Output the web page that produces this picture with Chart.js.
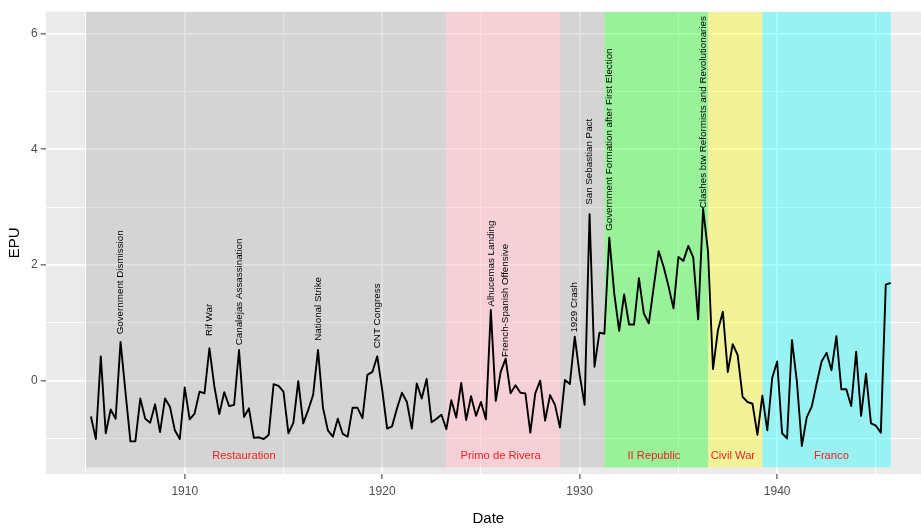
<!DOCTYPE html>
<html><head><meta charset="utf-8">
<script src="https://cdn.jsdelivr.net/npm/chart.js@4/dist/chart.umd.min.js"></script>
<style>
html,body{margin:0;padding:0;background:#fff;overflow:hidden;width:921px;height:528px}
#wrap{position:relative;width:931px;height:528px}
</style>
</head><body><div id="wrap"><canvas id="c" width="931" height="528"></canvas></div>
<script>
// Quarterly EPU index, first observation 1905 Q2
const firstQuarter = 1905.25;
const quarterStep = 0.25;
const epu = [
 -0.62,-1.01, 0.42,-0.91,-0.50,-0.66, 0.67,-0.20,-1.05,-1.05,
 -0.31,-0.66,-0.73,-0.41,-0.89,-0.31,-0.45,-0.86,-1.01,-0.12,
 -0.67,-0.57,-0.19,-0.22, 0.56,-0.10,-0.58,-0.20,-0.44,-0.42,
  0.53,-0.63,-0.48,-0.99,-0.98,-1.01,-0.94,-0.06,-0.09,-0.19,
 -0.91,-0.73,-0.01,-0.74,-0.51,-0.25, 0.53,-0.47,-0.86,-0.97,
 -0.66,-0.92,-0.97,-0.47,-0.47,-0.65, 0.10, 0.15, 0.42,-0.16,
 -0.83,-0.79,-0.48,-0.21,-0.37,-0.83,-0.05,-0.31, 0.03,-0.72,
 -0.66,-0.59,-0.84,-0.34,-0.64,-0.04,-0.68,-0.27,-0.61,-0.37,
 -0.67, 1.22,-0.35, 0.15, 0.38,-0.22,-0.08,-0.21,-0.22,-0.90,
 -0.22, 0.00,-0.69,-0.25,-0.42,-0.81, 0.01,-0.06, 0.76, 0.10,
 -0.42, 2.88, 0.24, 0.83, 0.81, 2.47, 1.51, 0.86, 1.49, 0.97,
  0.97, 1.77, 1.16, 0.99, 1.62, 2.24, 1.97, 1.63, 1.25, 2.14,
  2.07, 2.33, 2.13, 1.06, 2.97, 2.23, 0.20, 0.87, 1.19, 0.15,
  0.63, 0.44,-0.28,-0.37,-0.40,-0.94,-0.26,-0.86, 0.05, 0.33,
 -0.91,-1.00, 0.70,-0.02,-1.13,-0.63,-0.45,-0.05, 0.33, 0.48,
  0.18, 0.77,-0.15,-0.15,-0.44, 0.50,-0.61, 0.12,-0.74,-0.78,
 -0.90, 1.66, 1.69
];
const dates = epu.map((_, i) => firstQuarter + i * quarterStep);

// Political periods
const periodNames  = ["Restauration", "Primo de Rivera", "", "II Republic", "Civil War", "Franco"];
const periodStarts = [1905, 1923.25, 1929, 1931.25, 1936.5, 1939.25];
const periodEnds   = [1923.25, 1929, 1931.25, 1936.5, 1939.25, 1945.75];
const periodLabelAt = [1913.0, 1926.0, null, 1933.76, 1937.76, 1942.75];
const periodFloor = -1.5;
const periodLabelY = -1.3;

// Events
const eventNames = ["Government Dismission", "Rif War", "Canalejas Assassination", "National Strike",
  "CNT Congress", "Alhucemas Landing", "French-Spanish Offensive", "1929 Crash", "San Sebastian Pact",
  "Government Formation after First Election", "Clashes btw Reformists and Revolutionaries"];
const eventDates  = [1906.75, 1911.25, 1912.75, 1916.75, 1919.75, 1925.5, 1926.25, 1929.75, 1930.5, 1931.5, 1936.25];
const eventLabelY = [0.80, 0.77, 0.61, 0.69, 0.56, 1.28, 0.41, 0.83, 3.04, 2.59, 2.98];

// Axis ticks
const xTicks = [1905, 1910, 1915, 1920, 1925, 1930, 1935, 1940, 1945];
const xLabelled = [1910, 1920, 1930, 1940];
const yTicks = [-1, 0, 1, 2, 3, 4, 5, 6];
const yLabelled = [0, 2, 4, 6];

// Styles
const periodFills = ["rgba(169,169,169,0.35)", "rgba(255,182,193,0.5)", "rgba(169,169,169,0.35)",
  "rgba(0,255,0,0.35)", "rgba(255,255,0,0.35)", "rgba(0,255,255,0.35)"];
const FONT = "'Liberation Sans', Arial, Helvetica, sans-serif";

const panelPlugin = {
  id: 'panel',
  beforeDraw(chart) {
    const {ctx, chartArea: a} = chart;
    ctx.save();
    ctx.fillStyle = '#EBEBEB';
    ctx.fillRect(a.left, a.top, a.right - a.left, a.bottom - a.top);
    ctx.restore();
  },
  beforeDatasetsDraw(chart) {
    const {ctx, chartArea: a, scales: {x, y}} = chart;
    ctx.save();
    ctx.beginPath(); ctx.rect(a.left, a.top, a.right - a.left, a.bottom - a.top); ctx.clip();
    const yb = y.getPixelForValue(periodFloor);
    periodStarts.forEach((s, i) => {
      const x1 = x.getPixelForValue(s), x2 = x.getPixelForValue(periodEnds[i]);
      ctx.fillStyle = periodFills[i];
      ctx.fillRect(x1, a.top, x2 - x1, yb - a.top);
    });
    ctx.restore();
  },
  afterDatasetsDraw(chart) {
    const {ctx, scales: {x, y}} = chart;
    ctx.save();
    ctx.fillStyle = '#EE2222';
    ctx.font = '11.2px ' + FONT;
    ctx.textAlign = 'center'; ctx.textBaseline = 'middle';
    periodNames.forEach((n, i) => {
      if (!n) return;
      ctx.fillText(n, x.getPixelForValue(periodLabelAt[i]), y.getPixelForValue(periodLabelY));
    });
    ctx.fillStyle = '#000';
    ctx.font = '9.8px ' + FONT;
    ctx.textAlign = 'left'; ctx.textBaseline = 'middle';
    eventNames.forEach((n, i) => {
      ctx.save();
      ctx.translate(x.getPixelForValue(eventDates[i]), y.getPixelForValue(eventLabelY[i]));
      ctx.rotate(-Math.PI / 2);
      ctx.fillText(n, 0, 0);
      ctx.restore();
    });
    ctx.restore();
  }
};

new Chart(document.getElementById('c'), {
  type: 'line',
  data: {
    datasets: [{
      data: dates.map((d, i) => ({x: d, y: epu[i]})),
      borderColor: '#000', borderWidth: 1.9, pointRadius: 0, tension: 0,
      fill: false, borderJoinStyle: 'round'
    }]
  },
  options: {
    responsive: false, animation: false, devicePixelRatio: 1,
    layout: {padding: {top: 11.7, left: 0, right: 0, bottom: 0}},
    plugins: {legend: {display: false}, tooltip: {enabled: false}},
    scales: {
      x: {
        type: 'linear', min: 1902.96, max: 1947.79,
        afterBuildTicks: s => { s.ticks = xTicks.map(v => ({value: v})); },
        afterFit: s => { s.height = 54; },
        ticks: {autoSkip: false, maxRotation: 0, padding: 5, color: '#4D4D4D',
          font: {family: FONT, size: 12},
          callback: v => xLabelled.includes(v) ? String(v) : ''},
        grid: {color: '#FFFFFF',
          lineWidth: c => xLabelled.includes(c.tick.value) ? 1.8 : 0.9,
          tickLength: 5, tickWidth: 1,
          tickColor: c => xLabelled.includes(c.tick.value) ? '#333333' : 'rgba(0,0,0,0)'},
        border: {display: false},
        title: {display: true, text: 'Date', color: '#000', font: {family: FONT, size: 15},
          padding: {top: 0, bottom: 0}}
      },
      y: {
        type: 'linear', min: -1.615, max: 6.38,
        afterBuildTicks: s => { s.ticks = yTicks.map(v => ({value: v})); },
        afterFit: s => { s.width = 45.7; },
        ticks: {autoSkip: false, padding: 3, color: '#4D4D4D',
          font: {family: FONT, size: 12},
          callback: v => yLabelled.includes(v) ? String(v) : ''},
        grid: {color: '#FFFFFF',
          lineWidth: c => yLabelled.includes(c.tick.value) ? 1.8 : 0.9,
          tickLength: 5, tickWidth: 1,
          tickColor: c => yLabelled.includes(c.tick.value) ? '#333333' : 'rgba(0,0,0,0)'},
        border: {display: false},
        title: {display: true, text: 'EPU', color: '#000', font: {family: FONT, size: 15},
          padding: {top: 6, bottom: 0}}
      }
    }
  },
  plugins: [panelPlugin]
});
</script>
</body></html>
